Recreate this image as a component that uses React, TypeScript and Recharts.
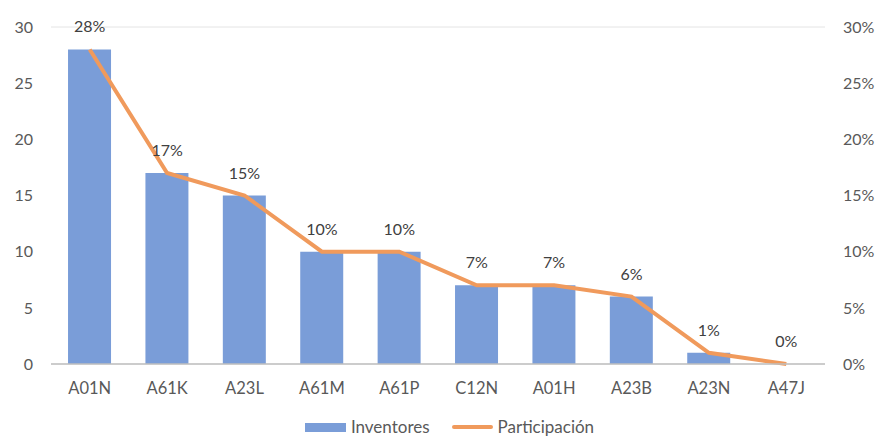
import React from "react";
import { ComposedChart, Bar, Line, XAxis, YAxis, CartesianGrid, Legend, LabelList } from "recharts";

const categories = ["A01N", "A61K", "A23L", "A61M", "A61P", "C12N", "A01H", "A23B", "A23N", "A47J"];
const inventores = [28, 17, 15, 10, 10, 7, 7, 6, 1, 0];
const participacion = [0.28, 0.17, 0.15, 0.1, 0.1, 0.07, 0.07, 0.06, 0.01, 0];
const leftTicks = [0, 5, 10, 15, 20, 25, 30];
const rightTicks = [0, 0.05, 0.1, 0.15, 0.2, 0.25, 0.3];

const data = categories.map((c, i) => ({ cat: c, inv: inventores[i], par: participacion[i] }));

const FONT = "Lato, 'Open Sans', sans-serif";
const TXT = "#595959";
const BLUE = "#7A9DD8";
const ORANGE = "#F09A5C";

const pct = (v: number) => `${Math.round(v * 100)}%`;

const LegendContent = () => (
  <div style={{ display: "flex", justifyContent: "center", alignItems: "center", fontFamily: FONT, fontSize: 17, lineHeight: "18px", color: TXT, paddingLeft: 18, paddingTop: 14 }}>
    <span style={{ display: "inline-block", width: 41, height: 9, background: BLUE, marginRight: 5 }} />
    <span style={{ marginRight: 22 }}>Inventores</span>
    <span style={{ display: "inline-block", width: 41, height: 4, background: ORANGE, marginRight: 5, borderRadius: 2 }} />
    <span>Participación</span>
  </div>
);

export default function App() {
  return (
    <div style={{ position: "absolute", left: 0, top: 0, background: "#fff" }}>
      <ComposedChart width={881} height={439} data={data} margin={{ top: 27, right: 0, bottom: 0, left: 0 }} barCategoryGap="22%">
        <CartesianGrid vertical={false} stroke="#E4E4E4" />
        <XAxis
          dataKey="cat"
          tickLine={false}
          axisLine={{ stroke: "#BFBFBF", strokeWidth: 1.5 }}
          tick={{ fill: TXT, fontFamily: FONT, fontSize: 16.5 }}
          tickMargin={12}
          height={40}
        />
        <YAxis
          yAxisId="l"
          domain={[0, 30]}
          ticks={leftTicks}
          width={51}
          axisLine={false}
          tickLine={false}
          tickSize={0}
          tickMargin={18}
          tick={{ fill: TXT, fontFamily: FONT, fontSize: 16 }}
        />
        <YAxis
          yAxisId="r"
          orientation="right"
          domain={[0, 0.3]}
          ticks={rightTicks}
          tickFormatter={pct}
          width={56}
          axisLine={false}
          tickLine={false}
          tickSize={0}
          tickMargin={18}
          tick={{ fill: TXT, fontFamily: FONT, fontSize: 16, textAnchor: "start" }}
        />
        <Legend verticalAlign="bottom" height={35} content={<LegendContent />} />
        <Bar yAxisId="l" dataKey="inv" name="Inventores" fill={BLUE} isAnimationActive={false} />
        <Line yAxisId="r" dataKey="par" name="Participación" stroke={ORANGE} strokeWidth={4} dot={false} type="linear" isAnimationActive={false}>
          <LabelList dataKey="par" position="top" offset={17} formatter={(v: any) => pct(Number(v))} style={{ fill: "#404040", fontFamily: FONT, fontSize: 16 }} />
        </Line>
      </ComposedChart>
    </div>
  );
}
